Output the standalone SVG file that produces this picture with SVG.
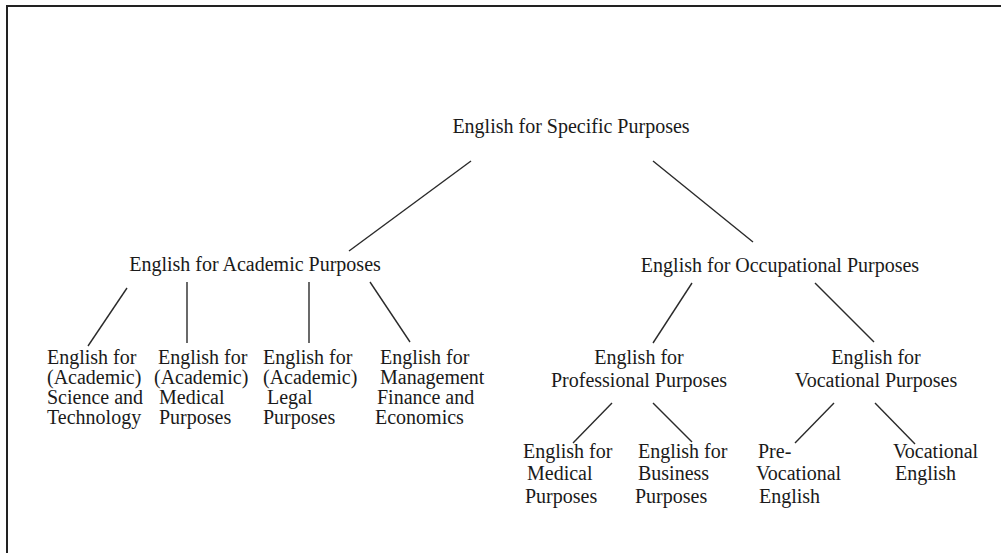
<svg xmlns="http://www.w3.org/2000/svg" width="1001" height="553" viewBox="0 0 1001 553">
<style>
text{font-family:"Liberation Serif","Times New Roman",serif;font-size:20px;fill:#1a1a1a}
.c{text-anchor:middle}
.ln line{stroke:#2a2a2a;stroke-width:1.4}
.frame{stroke:#222;stroke-width:2;fill:none}
</style>
<rect width="1001" height="553" fill="#fff"/>
<path class="frame" d="M7,553 V6 H1001"/>
<g class="ln" id="connectors">
<line x1="471" y1="161" x2="349" y2="251"/>
<line x1="653" y1="161" x2="753" y2="242"/>
<line x1="127" y1="288" x2="88" y2="346"/>
<line x1="187" y1="282" x2="187" y2="343"/>
<line x1="309" y1="282" x2="309" y2="343"/>
<line x1="370" y1="282" x2="410" y2="342"/>
<line x1="692" y1="283" x2="653" y2="343"/>
<line x1="815" y1="283" x2="874" y2="342"/>
<line x1="612" y1="403" x2="573" y2="443"/>
<line x1="653" y1="403" x2="692" y2="442"/>
<line x1="834" y1="403" x2="795" y2="443"/>
<line x1="875" y1="403" x2="915" y2="444"/>
</g>
<g id="esp"><text class="c" x="571" y="133">English for Specific Purposes</text></g>
<g id="eap"><text class="c" x="255" y="271">English for Academic Purposes</text></g>
<g id="eop"><text class="c" x="780" y="272">English for Occupational Purposes</text></g>
<g id="east"><text x="47" y="364">English for</text><text x="47" y="384">(Academic)</text><text x="47" y="404">Science and</text><text x="47" y="424">Technology</text></g>
<g id="eamp"><text x="158" y="364">English for</text><text x="154" y="384">(Academic)</text><text x="159" y="404">Medical</text><text x="159" y="424">Purposes</text></g>
<g id="ealp"><text x="263" y="364">English for</text><text x="263" y="384">(Academic)</text><text x="267" y="404">Legal</text><text x="263" y="424">Purposes</text></g>
<g id="emfe"><text x="380" y="364">English for</text><text x="380" y="384">Management</text><text x="377" y="404">Finance and</text><text x="375" y="424">Economics</text></g>
<g id="epp"><text class="c" x="639" y="364">English for</text><text class="c" x="639" y="387">Professional Purposes</text></g>
<g id="evp"><text class="c" x="876" y="364">English for</text><text class="c" x="876" y="387">Vocational Purposes</text></g>
<g id="emp"><text x="523" y="458">English for</text><text x="527" y="480">Medical</text><text x="525" y="503">Purposes</text></g>
<g id="ebp"><text x="638" y="458">English for</text><text x="638" y="480">Business</text><text x="635" y="503">Purposes</text></g>
<g id="pve"><text x="758" y="458">Pre-</text><text x="756" y="480">Vocational</text><text x="759" y="503">English</text></g>
<g id="ve"><text x="893" y="458">Vocational</text><text x="895" y="480">English</text></g>
</svg>
